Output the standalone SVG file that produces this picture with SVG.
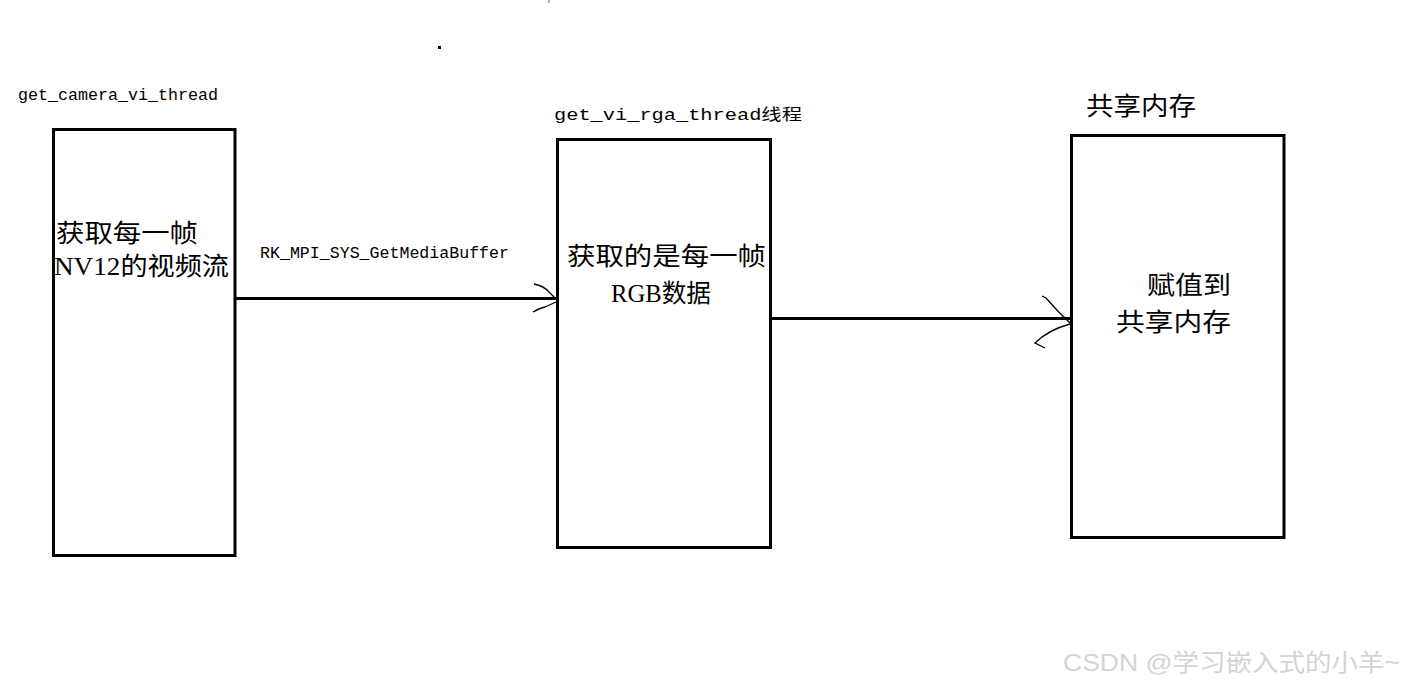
<svg xmlns="http://www.w3.org/2000/svg" width="1406" height="688" viewBox="0 0 1406 688">
<style>
.box{fill:#fff;stroke:#000;stroke-width:3}
.conn{fill:none;stroke:#000;stroke-width:3}
.head{fill:none;stroke:#000;stroke-width:1.3}
.mono{font-family:"Liberation Mono","Noto Sans CJK SC",monospace;font-size:16px;fill:#000}
.cjk{font-family:"Liberation Serif","Noto Sans CJK SC",serif;font-size:25px;fill:#000}
.wm{font-family:"Liberation Sans","Noto Sans CJK SC",sans-serif;font-size:24px;fill:#d4d4d4}
</style>
<rect width="1406" height="688" fill="#fff"/>
<rect x="438" y="46" width="3" height="3" fill="#000"/>
<rect x="548" y="0" width="2" height="3" fill="#aaa"/>
<g id="node-camera">
<text class="mono" x="18" y="100" textLength="200" lengthAdjust="spacingAndGlyphs">get_camera_vi_thread</text>
<rect class="box" x="53.5" y="129.5" width="181.5" height="426"/>
<text class="cjk" x="56" y="242" textLength="142" lengthAdjust="spacingAndGlyphs">获取每一帧</text>
<text class="cjk" x="54" y="275" textLength="175" lengthAdjust="spacingAndGlyphs">NV12的视频流</text>
</g>
<g id="node-rga">
<text class="mono" x="554" y="120" font-size="20" textLength="248" lengthAdjust="spacingAndGlyphs">get_vi_rga_thread线程</text>
<rect class="box" x="557.5" y="139.5" width="213" height="408"/>
<text class="cjk" x="567" y="265" textLength="199" lengthAdjust="spacingAndGlyphs">获取的是每一帧</text>
<text class="cjk" x="611" y="302" textLength="100" lengthAdjust="spacingAndGlyphs">RGB数据</text>
</g>
<g id="node-shm">
<text class="cjk" x="1086" y="115" textLength="110" lengthAdjust="spacingAndGlyphs">共享内存</text>
<rect class="box" x="1071.5" y="135.5" width="212.5" height="402"/>
<text class="cjk" x="1147" y="294" textLength="84" lengthAdjust="spacingAndGlyphs">赋值到</text>
<text class="cjk" x="1116" y="331" textLength="115" lengthAdjust="spacingAndGlyphs">共享内存</text>
</g>
<g id="connectors">
<line class="conn" x1="235" y1="298.5" x2="557" y2="298.5"/>
<path class="head" d="M534,284 Q544,286 549,292 L557,300"/>
<path class="head" d="M533,312 Q540,308 545,307 L556,302"/>
<text class="mono" x="260" y="258" textLength="249" lengthAdjust="spacingAndGlyphs">RK_MPI_SYS_GetMediaBuffer</text>
<line class="conn" x1="771" y1="318.5" x2="1071" y2="318.5"/>
<path class="head" d="M1042,296 L1046,298 Q1058,312 1070,323"/>
<path class="head" d="M1070,324 Q1048,330 1035,343 L1045,348"/>
</g>
<text class="wm" x="1063" y="671" textLength="337" lengthAdjust="spacingAndGlyphs">CSDN @学习嵌入式的小羊~</text>
</svg>
